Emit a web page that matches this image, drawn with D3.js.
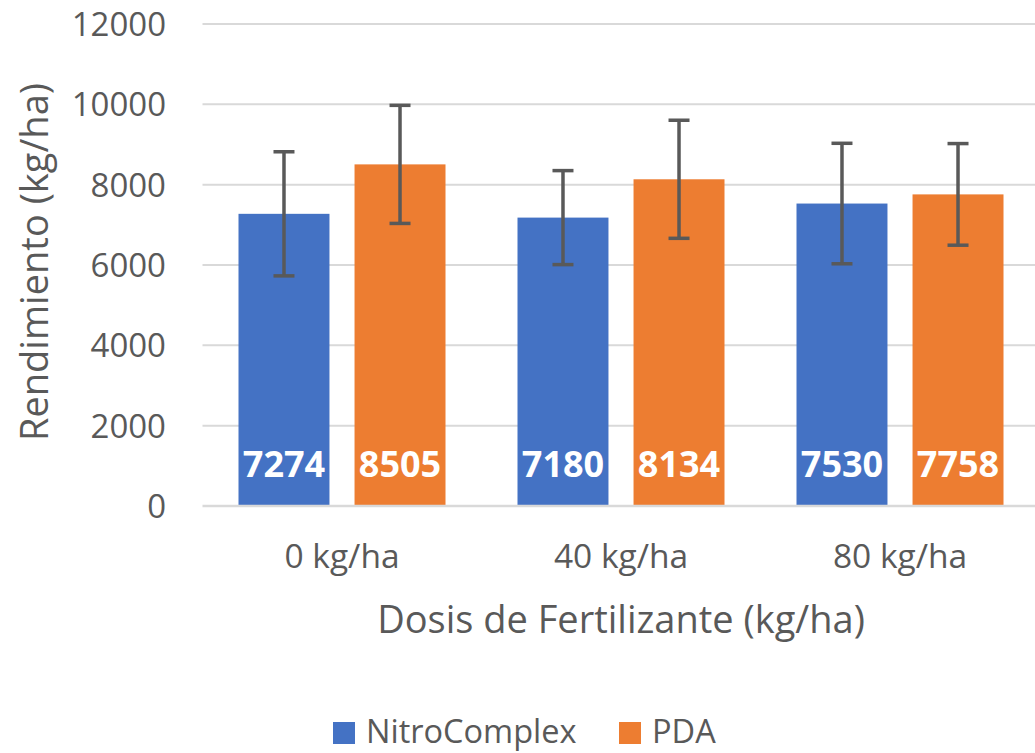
<!DOCTYPE html>
<html><head><meta charset="utf-8">
<script src="https://cdn.jsdelivr.net/npm/d3@7"></script>
<style>body{margin:0;background:#fff}svg{display:block}text{font-family:"Open Sans",sans-serif;fill:#595959}</style>
</head><body><svg id="c" width="1035" height="753"></svg>
<script>
const categories = ["0 kg/ha", "40 kg/ha", "80 kg/ha"];
const seriesNames = ["NitroComplex", "PDA"];
const nitroValues = [7274, 7180, 7530];
const pdaValues = [8505, 8134, 7758];
const nitroErrors = [1545, 1170, 1500];
const pdaErrors = [1470, 1470, 1265];
const yTicks = [0, 2000, 4000, 6000, 8000, 10000, 12000];
const colors = ["#4472C4", "#ED7D31"];

(function(){
const svg = d3.select("#c");
const pL = 202.5, pR = 1039.5, pT = 24, pB = 506;
const x = d3.scaleBand().domain(categories).range([pL, pR]).padding(0);
const xs = d3.scaleBand().domain(seriesNames).range([36, x.bandwidth() - 36]).paddingInner(0.216).paddingOuter(0);
const y = d3.scaleLinear().domain([0, 12000]).range([pB, pT]);

const rows = categories.map((c, i) => ({c, vals: [
  {s: seriesNames[0], v: nitroValues[i], e: nitroErrors[i]},
  {s: seriesNames[1], v: pdaValues[i], e: pdaErrors[i]}]}));

svg.append("g").selectAll("line").data(yTicks.slice(1)).join("line")
  .attr("x1", pL).attr("x2", 1035).attr("y1", d => y(d)).attr("y2", d => y(d))
  .attr("stroke", "#D9D9D9").attr("stroke-width", 2);

const yAxis = d3.axisLeft(y).tickValues(yTicks).tickSize(0).tickPadding(0).tickFormat(d3.format("d"));
const ya = svg.append("g").attr("transform", "translate(166,0)").call(yAxis);
ya.select(".domain").remove();
ya.selectAll("text").attr("font-size", 33).attr("fill", "#595959").attr("font-family", "Open Sans").attr("dy", "0.35em");

const g = svg.append("g").selectAll("g").data(rows).join("g").attr("transform", d => `translate(${x(d.c)},0)`);
g.selectAll("rect").data(d => d.vals).join("rect")
  .attr("x", d => xs(d.s)).attr("width", xs.bandwidth())
  .attr("y", d => y(d.v)).attr("height", d => y(0) - y(d.v))
  .attr("fill", (d, i) => colors[i]);

svg.append("line").attr("x1", pL).attr("x2", 1035).attr("y1", y(0)).attr("y2", y(0)).attr("stroke", "#D9D9D9").attr("stroke-width", 2.5);

const eb = g.selectAll("g.eb").data(d => d.vals).join("g").attr("class", "eb");
eb.append("line").attr("x1", d => xs(d.s) + xs.bandwidth()/2).attr("x2", d => xs(d.s) + xs.bandwidth()/2)
  .attr("y1", d => y(d.v + d.e)).attr("y2", d => y(d.v - d.e)).attr("stroke", "#595959").attr("stroke-width", 3.5);
eb.selectAll("line.cap").data(d => [d.v + d.e, d.v - d.e].map(v => ({s: d.s, v}))).join("line").attr("class", "cap")
  .attr("x1", d => xs(d.s) + xs.bandwidth()/2 - 10.5).attr("x2", d => xs(d.s) + xs.bandwidth()/2 + 10.5)
  .attr("y1", d => y(d.v)).attr("y2", d => y(d.v)).attr("stroke", "#595959").attr("stroke-width", 3.5);

g.selectAll("text.lbl").data(d => d.vals).join("text").attr("class", "lbl")
  .attr("x", d => xs(d.s) + xs.bandwidth()/2).attr("y", 464).attr("dy", "0.35em")
  .attr("text-anchor", "middle").attr("font-size", 36).attr("font-weight", "bold")
  .style("fill", "#fff").text(d => d.v);

const xAxis = d3.axisBottom(x).tickSize(0).tickPadding(0);
const xa = svg.append("g").attr("transform", "translate(0,556)").call(xAxis);
xa.select(".domain").remove();
xa.selectAll("text").attr("font-size", 33.5).attr("fill", "#595959").attr("font-family", "Open Sans").attr("dy", "0.35em");

svg.append("text").attr("x", (pL + pR)/2).attr("y", 620).attr("dy", "0.35em").attr("text-anchor", "middle")
  .attr("font-size", 38).text("Dosis de Fertilizante (kg/ha)");
svg.append("text").attr("transform", "translate(35,262) rotate(-90)").attr("dy", "0.35em").attr("text-anchor", "middle")
  .attr("font-size", 38).text("Rendimiento (kg/ha)");

const legX = [333, 619];
const lg = svg.append("g").selectAll("g").data(seriesNames).join("g").attr("transform", (d, i) => `translate(${legX[i]},743)`);
lg.append("rect").attr("x", 0).attr("y", -21).attr("width", 22).attr("height", 22).attr("fill", (d, i) => colors[i]);
lg.append("text").attr("x", 33).attr("font-size", 32.5).text(d => d);
})();
</script></body></html>
